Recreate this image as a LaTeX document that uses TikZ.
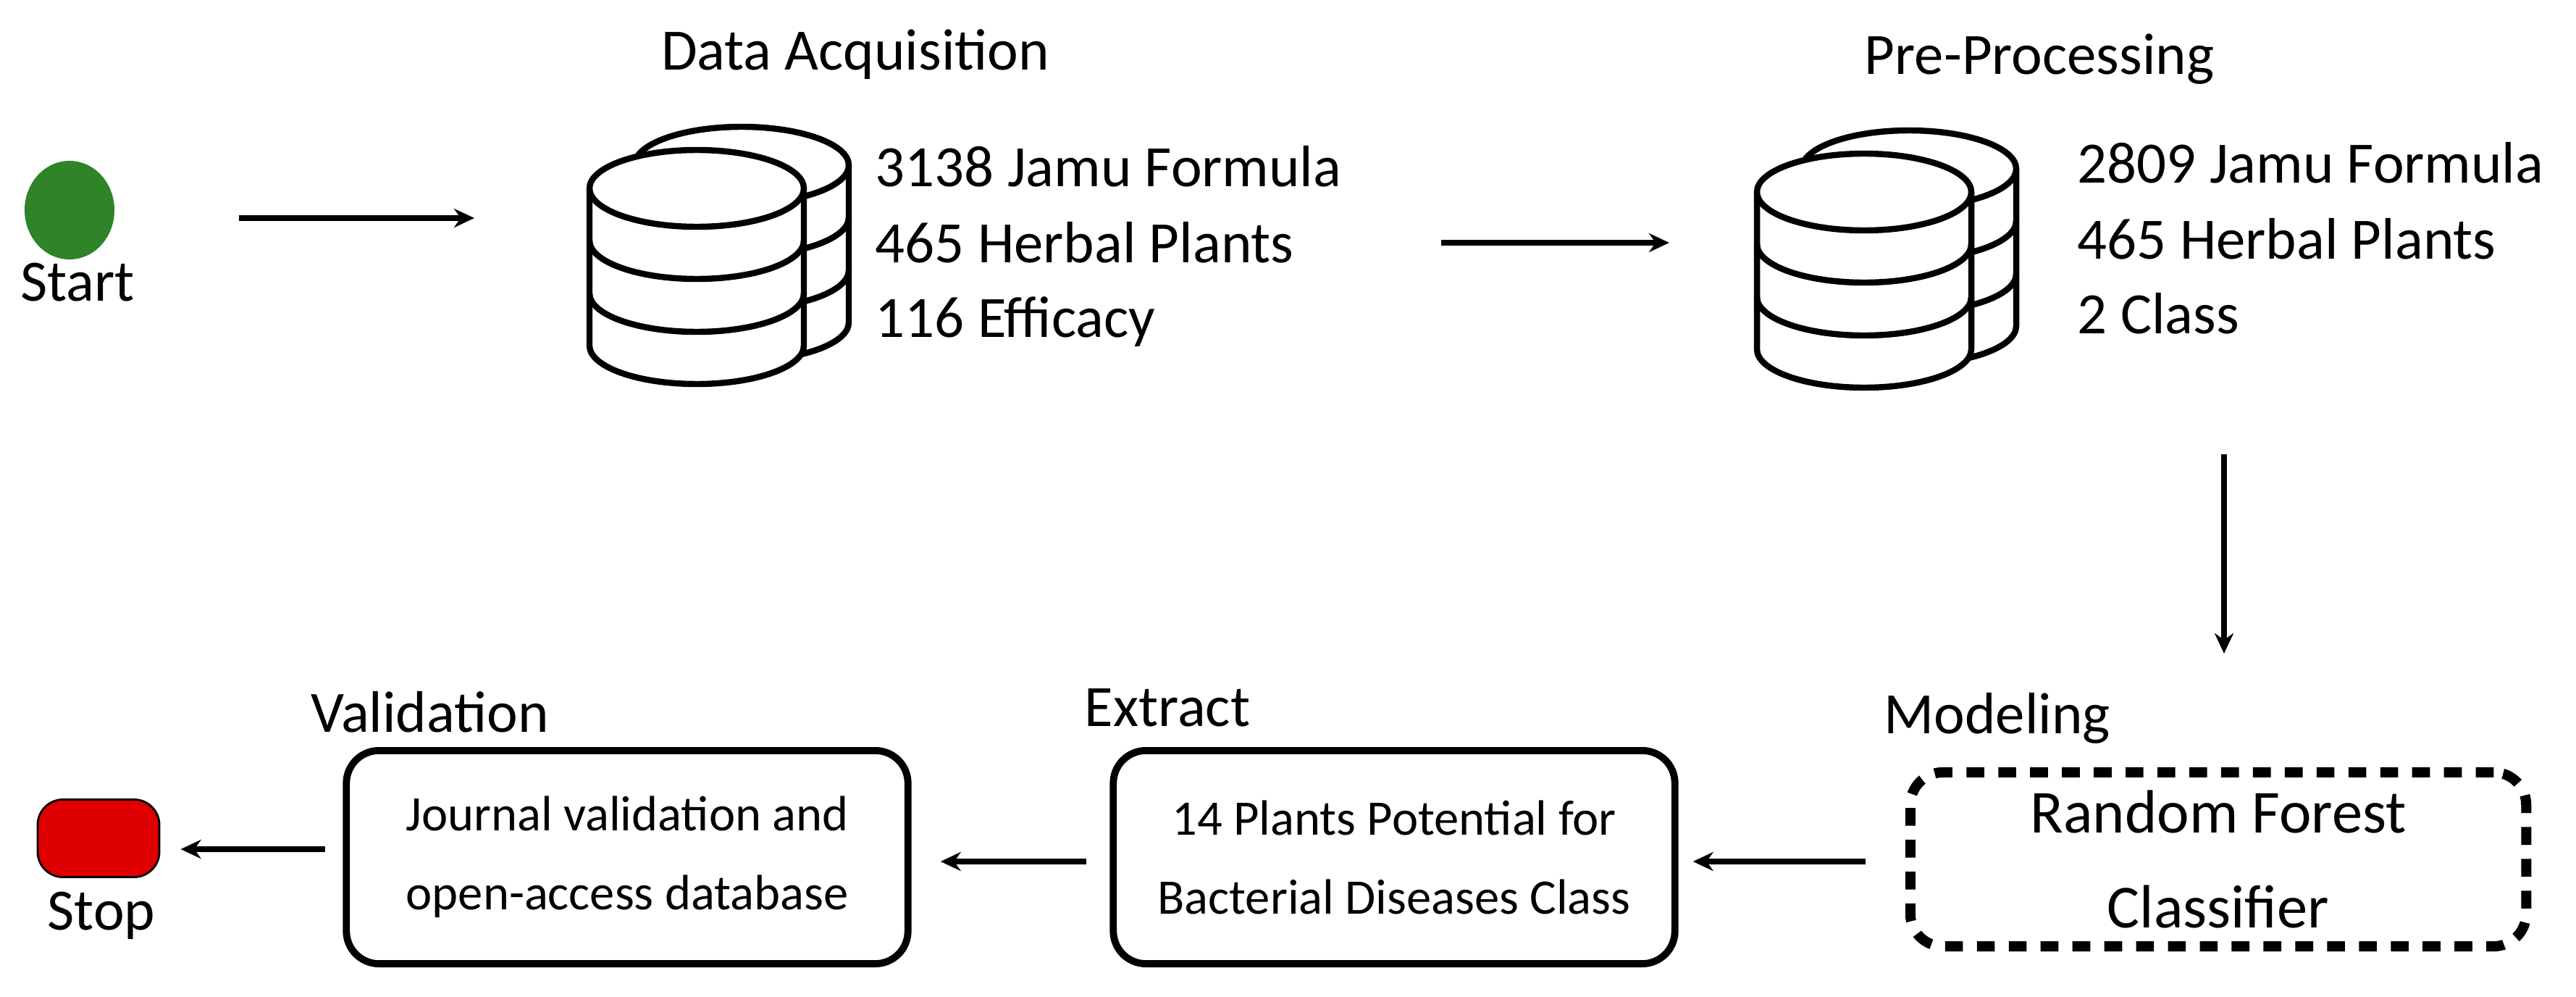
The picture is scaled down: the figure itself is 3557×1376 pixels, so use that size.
\documentclass[tikz,border=0pt]{standalone}
\usepackage{fontspec}
\setmainfont{Carlito}
\usetikzlibrary{arrows.meta,shapes.geometric}
\definecolor{startg}{RGB}{46,132,38}
\definecolor{stopr}{RGB}{222,0,0}
\tikzset{
  cyl/.style={line width=2.4pt, fill=white, line join=round},
  db/.pic={
    \begin{scope}[shift={(62,-32)}]
      \draw[cyl] (-148,0) -- (-148,217) arc[start angle=180,end angle=0,x radius=148,y radius=53] -- (148,0);
      \draw[cyl] (0,0) ellipse[x radius=148,y radius=53];
      \draw[line width=2.4pt] (-148,72) arc[start angle=180,end angle=0,x radius=148,y radius=53];
      \draw[line width=2.4pt] (-148,145) arc[start angle=180,end angle=0,x radius=148,y radius=53];
    \end{scope}
    \draw[cyl] (-148,0) -- (-148,217) arc[start angle=180,end angle=0,x radius=148,y radius=53] -- (148,0);
    \draw[cyl] (0,0) ellipse[x radius=148,y radius=53];
    \draw[line width=2.4pt] (-148,72) arc[start angle=180,end angle=0,x radius=148,y radius=53];
    \draw[line width=2.4pt] (-148,145) arc[start angle=180,end angle=0,x radius=148,y radius=53];
  },
  big/.style={font=\fontsize{23}{27}\selectfont, inner sep=0pt},
  box/.style={draw, line width=2.8pt, rounded corners=0.45cm, minimum width=7.75cm, minimum height=2.94cm, align=center, font=\fontsize{19.5}{31}\selectfont},
  dbox/.style={draw, line width=4pt, dash pattern=on 7pt off 5.5pt, rounded corners=0.45cm, minimum width=8.5cm, minimum height=2.4cm, align=center, font=\fontsize{24}{37}\selectfont},
  arr/.style={line width=2.2pt, -{Stealth[length=0.28cm,width=0.26cm]}},
}
\begin{document}
\begin{tikzpicture}[x=0.01cm,y=-0.01cm]
\useasboundingbox (0,0) rectangle (3557,1376);
% start
\node[ellipse, fill=startg, minimum width=1.24cm, minimum height=1.36cm, inner sep=0pt] (start) at (96,290) {};
\node[big, anchor=base] (startl) at (107,415) {Start};
\coordinate (a1s) at (330,301);
\coordinate (a1e) at (655,301);
\draw[arr] (a1s) -- (a1e);
% data acquisition
\node[big, anchor=base] (t1) at (1181,97) {Data Acquisition};
\pic at (962,260) {db};
\node[big, anchor=base west] (d11) at (1208,258) {3138 Jamu Formula};
\node[big, anchor=base west] (d12) at (1208,362) {465 Herbal Plants};
\node[big, anchor=base west] (d13) at (1208,465) {116 Efficacy};
\coordinate (a2s) at (1990,335);
\coordinate (a2e) at (2305,335);
\draw[arr] (a2s) -- (a2e);
% pre-processing
\node[big, anchor=base] (t2) at (2816,103) {Pre-Processing};
\pic at (2574,265) {db};
\node[big, anchor=base west] (d21) at (2868,252) {2809 Jamu Formula};
\node[big, anchor=base west] (d22) at (2868,357) {465 Herbal Plants};
\node[big, anchor=base west] (d23) at (2868,460) {2 Class};
\coordinate (a3s) at (3071,627);
\coordinate (a3e) at (3071,902);
\draw[arr] (a3s) -- (a3e);
% modeling
\node[big, anchor=base west] (t3) at (2601,1012) {Modeling};
\node[dbox] (rf) at (3063,1186) {Random Forest\\Classifier};
% extract
\node[big, anchor=base west] (t4) at (1497,1002) {Extract};
\node[box] (ex) at (1925,1183) {14 Plants Potential for\\Bacterial Diseases Class};
% validation
\node[big, anchor=base west] (t5) at (429,1010) {Validation};
\node[box] (va) at (866,1183) {Journal validation and\\open-access database};
% stop
\node[fill=stopr, draw, line width=0.8pt, rounded corners=0.35cm, minimum width=1.68cm, minimum height=1.07cm, inner sep=0pt] (stop) at (136,1157) {};
\node[big, anchor=base] (stopl) at (140,1283) {Stop};
\draw[arr] ([xshift=-0.55cm]rf.west |- 0,1189) -- ([xshift=0.2cm]ex.east |- 0,1189);
\draw[arr] ([xshift=-0.32cm]ex.west |- 0,1189) -- ([xshift=0.4cm]va.east |- 0,1189);
\draw[arr] ([xshift=-0.24cm]va.west |- 0,1172) -- ([xshift=0.28cm]stop.east |- 0,1172);
\end{tikzpicture}
\end{document}
